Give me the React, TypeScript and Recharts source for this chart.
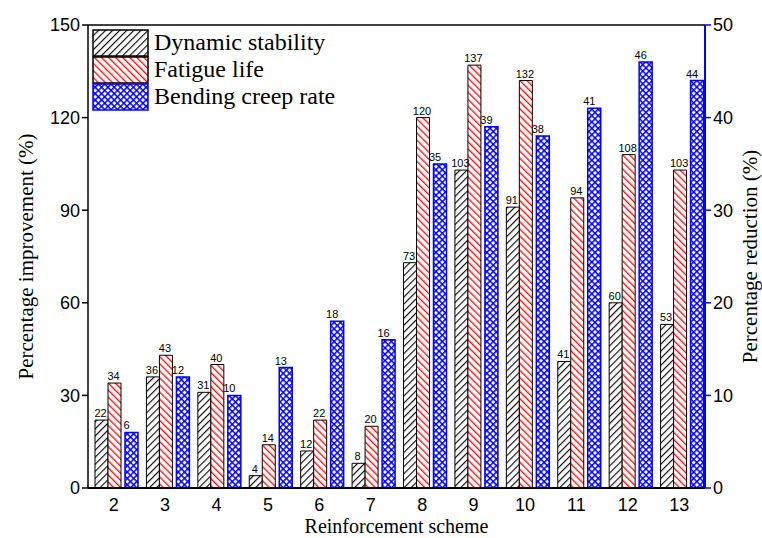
import { BarChart, Bar, XAxis, YAxis, LabelList, ReferenceLine, Rectangle } from 'recharts';

const schemes = ['2', '3', '4', '5', '6', '7', '8', '9', '10', '11', '12', '13'];
const dynamicStability = [22, 36, 31, 4, 12, 8, 73, 103, 91, 41, 60, 53];
const fatigueLife = [34, 43, 40, 14, 22, 20, 120, 137, 132, 94, 108, 103];
const bendingCreepRate = [6, 12, 10, 13, 18, 16, 35, 39, 38, 41, 46, 44];
const leftTicks = [0, 30, 60, 90, 120, 150];
const rightTicks = [0, 10, 20, 30, 40, 50];

const data = schemes.map((s, i) => ({
    scheme: s,
    ds: dynamicStability[i],
    fl: fatigueLife[i],
    bcr: bendingCreepRate[i],
}));

const SERIF = '"Liberation Serif", "Times New Roman", serif';
const SANS = '"Liberation Sans", Arial, sans-serif';

// nudge bars so the black/red pair touch and the blue bar sits a little apart
const shifted = (dx: number) => (props: any) => <Rectangle {...props} x={props.x + dx} />;

function PatternDefs() {
    return (
        <svg width="0" height="0" style={{ position: 'absolute' }}>
            <defs>
                <pattern id="hatchBlack" patternUnits="userSpaceOnUse" width="5" height="5" patternTransform="rotate(45)">
                    <rect width="5" height="5" fill="#fff" />
                    <line x1="0.6" y1="0" x2="0.6" y2="5" stroke="#000" strokeWidth="1.1" />
                </pattern>
                <pattern id="hatchRed" patternUnits="userSpaceOnUse" width="5" height="5" patternTransform="rotate(-45)">
                    <rect width="5" height="5" fill="#fff" />
                    <line x1="0.7" y1="0" x2="0.7" y2="5" stroke="#ff0000" strokeWidth="1.3" />
                </pattern>
                <pattern id="crossBlue" patternUnits="userSpaceOnUse" width="4.5" height="4.5" patternTransform="rotate(45)">
                    <rect width="4.5" height="4.5" fill="#fff" />
                    <line x1="0.7" y1="0" x2="0.7" y2="4.5" stroke="#0000ff" strokeWidth="1.6" />
                    <line x1="0" y1="0.7" x2="4.5" y2="0.7" stroke="#0000ff" strokeWidth="1.6" />
                </pattern>
            </defs>
        </svg>
    );
}

const legendItems = [
    { label: 'Dynamic stability', fill: 'url(#hatchBlack)', stroke: '#000' },
    { label: 'Fatigue life', fill: 'url(#hatchRed)', stroke: '#000' },
    { label: 'Bending creep rate', fill: 'url(#crossBlue)', stroke: '#0000ff' },
];

function LegendBox() {
    return (
        <div style={{ position: 'absolute', left: 92, top: 29, fontFamily: SERIF, fontSize: 24, color: '#000' }}>
            {legendItems.map((it) => (
                <div key={it.label} style={{ display: 'flex', alignItems: 'center', height: 27 }}>
                    <svg width="57" height="28" style={{ display: 'block' }}>
                        <rect x="1" y="1" width="55" height="26" fill={it.fill} stroke={it.stroke} strokeWidth="1.5" />
                    </svg>
                    <span style={{ marginLeft: 5, lineHeight: '27px' }}>{it.label}</span>
                </div>
            ))}
        </div>
    );
}

const tickStyle = { fontSize: 18, fill: '#000', fontFamily: SANS };
const valueLabel = { fontSize: 11, fill: '#000', fontFamily: SANS };
const titleStyle = { fontFamily: SERIF, fontSize: 21, fill: '#000', textAnchor: 'middle' as const };

export default function App() {
    return (
        <div style={{ position: 'absolute', left: 0, top: 0, width: 762, height: 538, background: '#fff' }}>
            <PatternDefs />
            <BarChart
                width={762}
                height={538}
                data={data}
                margin={{ top: 25, right: 0, bottom: 0, left: 0 }}
                barSize={13}
                barGap={0}
                barCategoryGap="12%"
            >
                <XAxis
                    dataKey="scheme"
                    height={50}
                    tickLine={false}
                    tickSize={5}
                    axisLine={{ stroke: '#000', strokeWidth: 2 }}
                    tick={tickStyle}
                    tickMargin={5}
                    label={{ value: 'Reinforcement scheme', position: 'insideBottom', offset: 5, style: { ...titleStyle, fontSize: 20 } }}
                />
                <YAxis
                    yAxisId="left"
                    orientation="left"
                    width={88}
                    domain={[0, 150]}
                    ticks={leftTicks}
                    interval={0}
                    tick={tickStyle}
                    tickSize={6}
                    tickLine={{ stroke: '#000', strokeWidth: 1.5 }}
                    axisLine={{ stroke: '#000', strokeWidth: 1.5 }}
                    label={{ value: 'Percentage improvement (%)', angle: -90, position: 'center', dx: -18, style: titleStyle }}
                />
                <YAxis
                    yAxisId="right"
                    orientation="right"
                    width={57}
                    domain={[0, 50]}
                    ticks={rightTicks}
                    interval={0}
                    tick={tickStyle}
                    tickSize={6}
                    tickLine={{ stroke: '#0000ff', strokeWidth: 1.5 }}
                    axisLine={{ stroke: '#0000ff', strokeWidth: 2 }}
                    label={{ value: 'Percentage reduction (%)', angle: -90, position: 'center', dx: 16, style: titleStyle }}
                />
                <ReferenceLine yAxisId="left" y={150} stroke="#000" strokeWidth={1.5} />
                <Bar yAxisId="left" dataKey="ds" name="Dynamic stability" fill="url(#hatchBlack)" stroke="#000" strokeWidth={1} shape={shifted(1)} isAnimationActive={false}>
                    <LabelList dataKey="ds" position="top" offset={3} style={valueLabel} />
                </Bar>
                <Bar yAxisId="left" dataKey="fl" name="Fatigue life" fill="url(#hatchRed)" stroke="#000" strokeWidth={1} shape={shifted(1)} isAnimationActive={false}>
                    <LabelList dataKey="fl" position="top" offset={3} style={valueLabel} />
                </Bar>
                <Bar yAxisId="right" dataKey="bcr" name="Bending creep rate" fill="url(#crossBlue)" stroke="#0000ff" strokeWidth={1.5} shape={shifted(5)} isAnimationActive={false}>
                    <LabelList dataKey="bcr" position="top" offset={3} style={valueLabel} />
                </Bar>
            </BarChart>
            <LegendBox />
        </div>
    );
}
